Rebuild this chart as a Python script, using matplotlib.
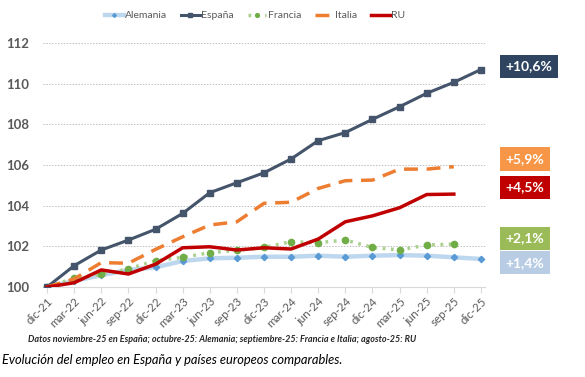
import matplotlib.pyplot as plt

plt.rcParams['font.family'] = ['Lato', 'DejaVu Sans']

periodos = ['dic-21', 'mar-22', 'jun-22', 'sep-22', 'dic-22', 'mar-23', 'jun-23', 'sep-23',
            'dic-23', 'mar-24', 'jun-24', 'sep-24', 'dic-24', 'mar-25', 'jun-25', 'sep-25', 'dic-25']

alemania = [100, 100.3, 100.58, 100.84, 100.97, 101.28, 101.41, 101.44, 101.49, 101.49,
            101.54, 101.49, 101.54, 101.57, 101.54, 101.46, 101.38]
espana = [100, 101.05, 101.82, 102.31, 102.84, 103.62, 104.64, 105.13, 105.62, 106.3,
          107.2, 107.6, 108.25, 108.87, 109.53, 110.07, 110.7]
francia = [100, 100.43, 100.62, 100.89, 101.3, 101.46, 101.69, 101.8, 101.95, 102.23,
           102.18, 102.31, 101.95, 101.82, 102.07, 102.11]
italia = [100, 100.4, 101.2, 101.17, 101.85, 102.47, 103.05, 103.21, 104.12, 104.17,
          104.85, 105.23, 105.26, 105.8, 105.8, 105.92]
ru = [100, 100.21, 100.84, 100.64, 101.12, 101.93, 101.98, 101.82, 101.93, 101.87,
      102.36, 103.21, 103.5, 103.9, 104.55, 104.57]

etiquetas = ['+10,6%', '+5,9%', '+4,5%', '+2,1%', '+1,4%']
etiquetas_y = [110.85, 106.3, 104.9, 102.4, 101.2]
etiquetas_color = ['#2E4460', '#F79646', '#C00000', '#9BBB59', '#B8CCE4']

fig = plt.figure(figsize=(5.85, 3.77), dpi=100)
ax = fig.add_axes([0.0735, 0.2387, 0.7556, 0.647])

ax.plot(range(len(alemania)), alemania, color='#BDD7EE', lw=3.2, marker='D', ms=3.2,
        mfc='#5B9BD5', mec='#5B9BD5', label='Alemania', zorder=3)
ax.plot(range(len(espana)), espana, color='#44546A', lw=2.2, marker='s', ms=4.5,
        label='España', zorder=4)
ax.plot(range(len(francia)), francia, color='#A9D08E', lw=2.5, ls=(0, (0.8, 1.6)),
        marker='o', ms=4.5, mfc='#70AD47', mec='#70AD47', label='Francia', zorder=3)
ax.plot(range(len(italia)), italia, color='#ED7D31', lw=2.5, ls=(0, (4, 2.5)),
        label='Italia', zorder=4)
ax.plot(range(len(ru)), ru, color='#C00000', lw=2.5, label='RU', zorder=5)

ax.set_xlim(-0.15, 16.15)
ax.set_ylim(100, 112)
ax.set_yticks(range(100, 113, 2))
ax.set_xticks(range(len(periodos)))
ax.set_xticklabels(periodos, rotation=45, ha='right', rotation_mode='anchor')
ax.tick_params(axis='x', colors='#595959', labelsize=8.3, length=4, color='#D9D9D9', pad=2)
ax.tick_params(axis='y', colors='#595959', labelsize=9.5, length=0, pad=10)
for t in ax.get_yticklabels():
    t.set_fontweight('bold')

ax.grid(axis='y', color='#BFBFBF', ls=(0, (1.5, 1.5)), lw=0.7)
ax.set_axisbelow(True)
for s in ['top', 'right', 'left']:
    ax.spines[s].set_visible(False)
ax.spines['bottom'].set_color('#D9D9D9')

ax.legend(loc='upper center', bbox_to_anchor=(0.48, 1.17), ncol=5, frameon=False,
          fontsize=7.5, labelcolor='#595959', handlelength=1.8, columnspacing=1.3,
          handletextpad=0.15, markerscale=0.6)

# cajas con la variacion acumulada
for txt, yv, col in zip(etiquetas, etiquetas_y, etiquetas_color):
    ax.text(1.047, yv, txt, transform=ax.get_yaxis_transform(), ha='left', va='center',
            color='white', fontsize=10, fontweight='bold',
            bbox=dict(boxstyle='square,pad=0.4', fc=col, ec='none'))

fig.text(0.048, 0.093, 'Datos noviembre-25 en España; octubre-25: Alemania; '
         'septiembre-25: Francia e Italia; agosto-25: RU',
         fontsize=6.5, fontstyle='italic', fontweight='bold', color='#262626')
fig.text(0.004, 0.035, 'Evolución del empleo en España y países europeos comparables.',
         fontsize=9.3, fontstyle='italic', color='black')

plt.savefig('out.png', dpi=100)
